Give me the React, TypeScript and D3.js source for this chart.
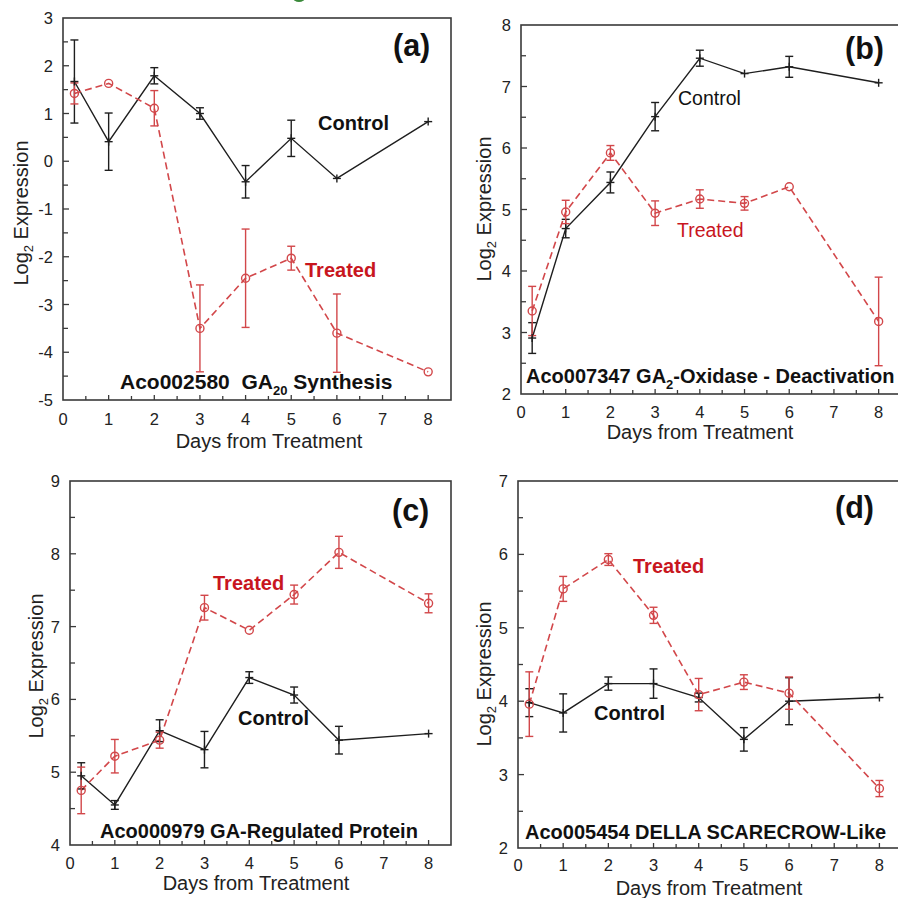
import React from "react";
import * as d3 from "d3";

// ---------- DATA ----------
const days = [0.25, 1, 2, 3, 4, 5, 6, 8];
const xTickValues = [0, 1, 2, 3, 4, 5, 6, 7, 8];

const aControl = [1.67, 0.41, 1.79, 1.0, -0.43, 0.48, -0.36, 0.83];
const aControlErr = [0.87, 0.6, 0.17, 0.12, 0.34, 0.38, 0, 0];
const aTreated = [1.42, 1.63, 1.11, -3.5, -2.45, -2.03, -3.6, -4.41];
const aTreatedErr = [0.22, 0, 0.37, 0.91, 1.03, 0.25, 0.82, 0];

const bControl = [2.91, 4.69, 5.44, 6.51, 7.46, 7.21, 7.32, 7.06];
const bControlErr = [0.25, 0.15, 0.17, 0.23, 0.13, 0, 0.17, 0];
const bTreated = [3.35, 4.96, 5.92, 4.94, 5.17, 5.1, 5.37, 3.18];
const bTreatedErr = [0.4, 0.19, 0.12, 0.2, 0.15, 0.11, 0, 0.72];

const cControl = [4.95, 4.55, 5.57, 5.31, 6.3, 6.06, 5.44, 5.53];
const cControlErr = [0.18, 0.06, 0.15, 0.25, 0.08, 0.11, 0.19, 0];
const cTreated = [4.75, 5.22, 5.44, 7.26, 6.95, 7.44, 8.02, 7.32];
const cTreatedErr = [0.32, 0.23, 0.11, 0.17, 0, 0.13, 0.22, 0.13];

const dControl = [3.98, 3.84, 4.24, 4.24, 4.05, 3.48, 4.0, 4.05];
const dControlErr = [0.19, 0.26, 0.09, 0.2, 0.06, 0.16, 0.32, 0];
const dTreated = [3.96, 5.53, 5.93, 5.17, 4.09, 4.26, 4.11, 2.81];
const dTreatedErr = [0.44, 0.17, 0.08, 0.11, 0.22, 0.1, 0.22, 0.11];

const aYTicks = [-5, -4, -3, -2, -1, 0, 1, 2, 3];
const bYTicks = [2, 3, 4, 5, 6, 7, 8];
const cYTicks = [4, 5, 6, 7, 8, 9];
const dYTicks = [2, 3, 4, 5, 6, 7];

const xLabel = "Days from Treatment";
const seriesNames = ["Control", "Treated"];

// ---------- STYLE ----------
const FONT = "'Liberation Sans', Arial, Helvetica, sans-serif";
const BLACK = "#1e1e1e";
const FRAME = "#3a3a3a";
const RED_LINE = "#d2474a";
const RED_TEXT = "#c8161e";

type Panel = {
  letter: string;
  control: number[];
  controlErr: number[];
  treated: number[];
  treatedErr: number[];
  yDomain: [number, number];
  yTicks: number[];
  left: number;
  right: number;
  top: number;
  bottom: number;
  titleParts: { main: string; sub: string; rest: string };
  titleSize: number;
  titlePos: [number, number];
  letterPos: [number, number];
  controlPos: [number, number];
  treatedPos: [number, number];
  labelBold: boolean;
  yLabelX: number;
  yLabelCY: number;
  xTickDy: number;
  xLabelDy: number;
  xLabelCX: number;
};

const panels: Panel[] = [
  {
    letter: "(a)",
    control: aControl, controlErr: aControlErr, treated: aTreated, treatedErr: aTreatedErr,
    yDomain: [-5, 3], yTicks: aYTicks,
    left: 63, right: 451, top: 18, bottom: 400,
    titleParts: { main: "Aco002580  GA", sub: "20", rest: " Synthesis" },
    titleSize: 21,
    titlePos: [120, 389], letterPos: [393, 56],
    controlPos: [318, 130], treatedPos: [305, 277], labelBold: true,
    yLabelX: 28, yLabelCY: 213, xTickDy: 25, xLabelDy: 48, xLabelCX: 269,
  },
  {
    letter: "(b)",
    control: bControl, controlErr: bControlErr, treated: bTreated, treatedErr: bTreatedErr,
    yDomain: [2, 8], yTicks: bYTicks,
    left: 521, right: 901, top: 25, bottom: 394,
    titleParts: { main: "Aco007347 GA", sub: "2", rest: "-Oxidase - Deactivation" },
    titleSize: 20,
    titlePos: [526, 383], letterPos: [845, 59],
    controlPos: [678, 105], treatedPos: [677, 237], labelBold: false,
    yLabelX: 491, yLabelCY: 209, xTickDy: 24, xLabelDy: 45, xLabelCX: 700,
  },
  {
    letter: "(c)",
    control: cControl, controlErr: cControlErr, treated: cTreated, treatedErr: cTreatedErr,
    yDomain: [4, 9], yTicks: cYTicks,
    left: 70, right: 451, top: 481, bottom: 845,
    titleParts: { main: "Aco000979 GA-Regulated Protein", sub: "", rest: "" },
    titleSize: 20,
    titlePos: [100, 838], letterPos: [392, 521],
    controlPos: [238, 725], treatedPos: [213, 590], labelBold: true,
    yLabelX: 43, yLabelCY: 666, xTickDy: 24, xLabelDy: 45, xLabelCX: 256,
  },
  {
    letter: "(d)",
    control: dControl, controlErr: dControlErr, treated: dTreated, treatedErr: dTreatedErr,
    yDomain: [2, 7], yTicks: dYTicks,
    left: 518, right: 902, top: 481, bottom: 848,
    titleParts: { main: "Aco005454 DELLA SCARECROW-Like", sub: "", rest: "" },
    titleSize: 20,
    titlePos: [525, 839], letterPos: [835, 518],
    controlPos: [594, 720], treatedPos: [633, 573], labelBold: true,
    yLabelX: 491, yLabelCY: 674, xTickDy: 23, xLabelDy: 47, xLabelCX: 709,
  },
];

function PanelView({ p }: { p: Panel }) {
  const x = d3.scaleLinear().domain([0, 8.5]).range([p.left, p.right]);
  const y = d3.scaleLinear().domain(p.yDomain).range([p.bottom, p.top]);

  const line = d3
    .line<number>()
    .x((_, i) => x(days[i]))
    .y((v) => y(v));

  const xMinor = d3.range(0.5, 8.5, 0.5);
  const yMinor = d3.range(p.yDomain[0] + 0.5, p.yDomain[1], 0.5);

  const errBars = (vals: number[], errs: number[], color: string, key: string) =>
    vals.map((v, i) =>
      errs[i] > 0 ? (
        <g key={key + i} stroke={color} strokeWidth={1.4}>
          <line x1={x(days[i])} x2={x(days[i])} y1={y(v + errs[i])} y2={y(v - errs[i])} />
          <line x1={x(days[i]) - 4} x2={x(days[i]) + 4} y1={y(v + errs[i])} y2={y(v + errs[i])} />
          <line x1={x(days[i]) - 4} x2={x(days[i]) + 4} y1={y(v - errs[i])} y2={y(v - errs[i])} />
        </g>
      ) : null
    );

  return (
    <g>
      {/* frame */}
      <rect
        x={p.left}
        y={p.top}
        width={p.right - p.left}
        height={p.bottom - p.top}
        fill="none"
        stroke={FRAME}
        strokeWidth={1.6}
      />
      {/* x ticks */}
      {xMinor.map((t) => (
        <line key={"xt" + t} x1={x(t)} x2={x(t)} y1={p.bottom} y2={p.bottom - (Number.isInteger(t) ? 5 : 4)} stroke={FRAME} strokeWidth={1.3} />
      ))}
      {/* y ticks */}
      {yMinor.map((t) => (
        <line key={"yt" + t} x1={p.left} x2={p.left + (Number.isInteger(t) ? 6 : 5)} y1={y(t)} y2={y(t)} stroke={FRAME} strokeWidth={1.3} />
      ))}
      {/* x tick labels */}
      {xTickValues.map((t) => (
        <text key={"xl" + t} x={x(t)} y={p.bottom + p.xTickDy} textAnchor="middle" fontSize={16.5} fontFamily={FONT} fill="#222">
          {t}
        </text>
      ))}
      {/* y tick labels */}
      {p.yTicks.map((t) => (
        <text key={"yl" + t} x={p.left - 10} y={y(t) + 6} textAnchor="end" fontSize={16.5} fontFamily={FONT} fill="#222">
          {t}
        </text>
      ))}
      {/* axis titles */}
      <text x={p.xLabelCX} y={p.bottom + p.xLabelDy} textAnchor="middle" fontSize={20} fontFamily={FONT} fill="#222">
        {xLabel}
      </text>
      <text
        transform={`translate(${p.yLabelX},${p.yLabelCY}) rotate(-90)`}
        textAnchor="middle"
        fontSize={20}
        fontFamily={FONT}
        fill="#222"
      >
        Log<tspan fontSize={13} dy={5}>2</tspan>
        <tspan dy={-5}> Expression</tspan>
      </text>

      {/* series lines */}
      <path d={line(p.control) || ""} fill="none" stroke={BLACK} strokeWidth={1.4} />
      <path d={line(p.treated) || ""} fill="none" stroke={RED_LINE} strokeWidth={1.6} strokeDasharray="7,4" />

      {errBars(p.control, p.controlErr, BLACK, "ce")}
      {errBars(p.treated, p.treatedErr, RED_LINE, "te")}

      {/* markers */}
      {p.control.map((v, i) => (
        <g key={"cm" + i} stroke={BLACK} strokeWidth={1.4}>
          <line x1={x(days[i]) - 4} x2={x(days[i]) + 4} y1={y(v)} y2={y(v)} />
          <line x1={x(days[i])} x2={x(days[i])} y1={y(v) - 4} y2={y(v) + 4} />
        </g>
      ))}
      {p.treated.map((v, i) => (
        <circle key={"tm" + i} cx={x(days[i])} cy={y(v)} r={4} fill="none" stroke={RED_LINE} strokeWidth={1.4} />
      ))}

      {/* annotations */}
      <text x={p.letterPos[0]} y={p.letterPos[1]} fontSize={30.5} fontWeight="bold" fontFamily={FONT} fill="#111">
        {p.letter}
      </text>
      <text x={p.controlPos[0]} y={p.controlPos[1]} fontSize={p.labelBold ? 20 : 19.5} fontWeight={p.labelBold ? "bold" : "normal"} fontFamily={FONT} fill="#111">
        {seriesNames[0]}
      </text>
      <text x={p.treatedPos[0]} y={p.treatedPos[1]} fontSize={p.labelBold ? 20 : 19.5} fontWeight={p.labelBold ? "bold" : "normal"} fontFamily={FONT} fill={RED_TEXT}>
        {seriesNames[1]}
      </text>
      <text x={p.titlePos[0]} y={p.titlePos[1]} fontSize={p.titleSize} fontWeight="bold" fontFamily={FONT} fill="#111" style={{ whiteSpace: "pre" }}>
        {p.titleParts.main}
        {p.titleParts.sub ? (
          <>
            <tspan fontSize={13} dy={6}>{p.titleParts.sub}</tspan>
            <tspan dy={-6}>{p.titleParts.rest}</tspan>
          </>
        ) : null}
      </text>
    </g>
  );
}

export default function App() {
  return (
    <svg
      width={898}
      height={898}
      viewBox="0 0 898 898"
      style={{ position: "absolute", left: 0, top: 0, background: "#fff" }}
    >
      <rect x={0} y={0} width={898} height={898} fill="#fff" />
      <ellipse cx={299} cy={-2} rx={6} ry={4} fill="#3a8a3a" />
      {panels.map((p) => (
        <PanelView key={p.letter} p={p} />
      ))}
    </svg>
  );
}
